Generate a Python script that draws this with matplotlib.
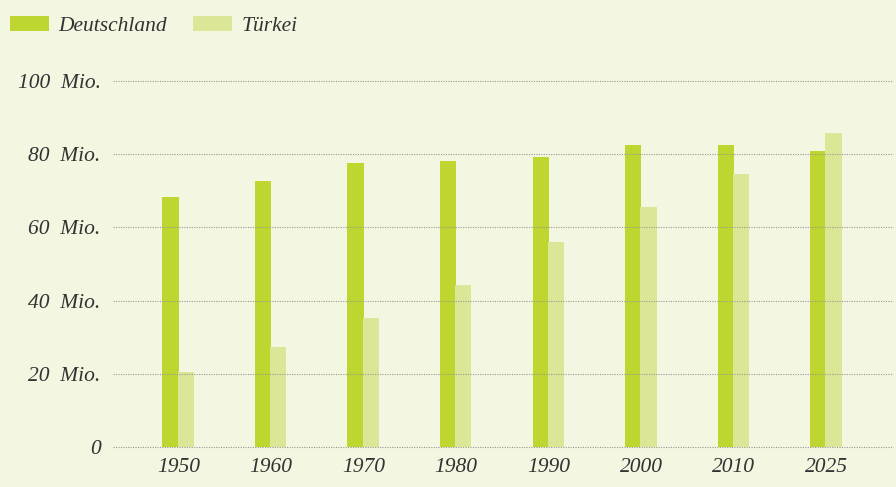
import matplotlib
matplotlib.use("Agg")
import matplotlib.pyplot as plt
import numpy as np

years = ["1950", "1960", "1970", "1980", "1990", "2000", "2010", "2025"]
deutschland = [68.3, 72.7, 77.6, 78.1, 79.2, 82.5, 82.5, 80.9]
tuerkei = [20.5, 27.3, 35.2, 44.3, 56.0, 65.6, 74.6, 85.8]
yticks = [0, 20, 40, 60, 80, 100]
ytick_labels = ["0", "20  Mio.", "40  Mio.", "60  Mio.", "80  Mio.", "100  Mio."]

bg = "#f3f6e1"
c_de = "#bed62f"
c_tr = "#dce697"
txt = "#333333"
font = "Liberation Serif"

W, H = 896, 487
fig = plt.figure(figsize=(W / 100, H / 100), dpi=100, facecolor=bg)
ax = fig.add_axes([113 / W, (H - 447) / H, (893 - 113) / W, (447 - 81) / H])
ax.set_facecolor(bg)

x = np.arange(len(years))
bw = 0.175
ax.bar(x - bw / 2, deutschland, width=bw, color=c_de, zorder=2, label="Deutschland")
ax.bar(x + bw / 2 - 0.01, tuerkei, width=bw, color=c_tr, zorder=2, label="Türkei")

ax.set_xlim(-0.708, 7.72)
ax.set_ylim(0, 100)
ax.set_yticks(yticks)
ax.set_yticklabels(ytick_labels)
ax.set_xticks(x)
ax.set_xticklabels(years)
for sp in ax.spines.values():
    sp.set_visible(False)
ax.tick_params(length=0)
ax.tick_params(axis="y", pad=9)
ax.tick_params(axis="x", pad=8)
for lab in ax.get_yticklabels() + ax.get_xticklabels():
    lab.set_fontfamily(font)
    lab.set_fontstyle("italic")
    lab.set_fontsize(15.5)
    lab.set_color(txt)

for yv in yticks:
    ax.axhline(yv, color="#9a9a90", linewidth=0.8, linestyle=(0, (1, 1.2)), zorder=3, clip_on=False)

leg = fig.legend(loc="upper left", bbox_to_anchor=(10 / W, 1 - 16 / H), ncol=2, frameon=False,
                 prop={"family": font, "style": "italic", "size": 15.5},
                 handlelength=1.8, handleheight=0.7, handletextpad=0.45, columnspacing=1.2,
                 borderpad=0, borderaxespad=0)
for t in leg.get_texts():
    t.set_color(txt)

fig.savefig("out.png", dpi=100, facecolor=bg)
